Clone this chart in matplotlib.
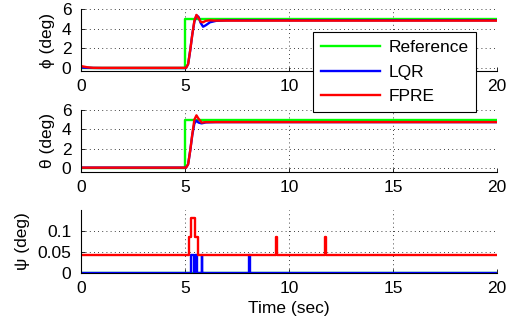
import matplotlib.pyplot as plt
from matplotlib.lines import Line2D

plt.rcParams['font.family'] = ['Liberation Sans', 'DejaVu Sans']
plt.rcParams['font.size'] = 12.5

# time breakpoints and values
t_ref = [0, 5.0, 5.0, 20]
ref = [0, 0, 5, 5]

# roll (phi)
t_phi_lqr = [0, 0.3, 1.0, 5.05, 5.15, 5.25, 5.35, 5.45, 5.55, 5.65, 5.75, 5.87, 6.0, 6.2, 6.5, 7.0, 20]
phi_lqr = [0.05, 0.02, 0.0, 0.0, 0.4, 1.8, 3.4, 4.7, 5.35, 5.2, 4.6, 4.2, 4.35, 4.65, 4.8, 4.85, 4.85]
t_phi_fpre = [0, 0.3, 0.6, 5.05, 5.15, 5.25, 5.35, 5.45, 5.55, 5.65, 5.75, 5.87, 6.0, 6.2, 6.5, 20]
phi_fpre = [0.2, 0.08, 0.02, 0.02, 0.4, 1.8, 3.4, 4.8, 5.4, 5.1, 4.7, 4.65, 4.8, 4.85, 4.82, 4.82]

# pitch (theta)
t_th_lqr = [0, 5.05, 5.15, 5.25, 5.35, 5.45, 5.55, 5.65, 5.8, 6.0, 6.5, 20]
th_lqr = [0.05, 0.05, 0.4, 1.8, 3.4, 4.6, 4.9, 4.7, 4.62, 4.72, 4.75, 4.75]
t_th_fpre = [0, 5.05, 5.15, 5.25, 5.35, 5.45, 5.55, 5.65, 5.8, 6.0, 6.5, 20]
th_fpre = [0.05, 0.05, 0.4, 1.8, 3.5, 5.0, 5.45, 5.1, 4.7, 4.75, 4.75, 4.75]

# yaw (psi), step-wise
t_psi_ref = [0, 20]
psi_ref = [0, 0]
t_psi_lqr = [0, 5.27, 5.45, 5.5, 5.56, 5.8, 5.83, 8.1, 8.13, 20]
psi_lqr = [0, 0.043, 0, 0.043, 0, 0.043, 0, 0.043, 0, 0]
t_psi_fpre = [0, 5.19, 5.29, 5.48, 5.64, 9.38, 9.42, 11.72, 11.76, 20]
psi_fpre = [0.043, 0.086, 0.13, 0.086, 0.043, 0.086, 0.043, 0.086, 0.043, 0.043]

green, blue, red = '#00ff00', '#0000ff', '#ff0000'
lw = 1.7

fig = plt.figure(figsize=(5.08, 3.26), dpi=100)
ax1 = fig.add_axes([81/508, 1-71/326, 416/508, 62/326])
ax2 = fig.add_axes([81/508, 1-172/326, 416/508, 62/326])
ax3 = fig.add_axes([81/508, 1-273/326, 416/508, 63/326])

ax1.plot(t_ref, ref, color=green, lw=lw)
ax1.plot(t_phi_lqr, phi_lqr, color=blue, lw=lw)
ax1.plot(t_phi_fpre, phi_fpre, color=red, lw=lw)
ax1.set_ylim(-0.3, 6)
ax1.set_yticks([0, 2, 4, 6])
ax1.set_ylabel('ϕ (deg)', labelpad=5)

ax2.plot(t_ref, ref, color=green, lw=lw)
ax2.plot(t_th_lqr, th_lqr, color=blue, lw=lw)
ax2.plot(t_th_fpre, th_fpre, color=red, lw=lw)
ax2.set_ylim(-0.4, 6)
ax2.set_yticks([0, 2, 4, 6])
ax2.set_ylabel('θ (deg)', labelpad=5)

ax3.plot(t_psi_ref, psi_ref, color=green, lw=lw)
ax3.plot(t_psi_lqr, psi_lqr, color=blue, lw=lw, drawstyle='steps-post')
ax3.plot(t_psi_fpre, psi_fpre, color=red, lw=lw, drawstyle='steps-post')
ax3.set_ylim(0, 0.15)
ax3.set_yticks([0, 0.05, 0.1])
ax3.set_yticklabels(['0', '0.05', '0.1'])
ax3.set_ylabel('ψ (deg)', labelpad=5)
ax3.set_xlabel('Time (sec)', labelpad=3)

for ax in (ax1, ax2, ax3):
    ax.set_xlim(0, 20)
    ax.set_xticks([0, 5, 10, 15, 20])
    ax.spines['top'].set_visible(False)
    ax.spines['right'].set_visible(False)
    ax.spines['left'].set_linewidth(0.8)
    ax.spines['bottom'].set_linewidth(0.8)
    ax.tick_params(direction='in', length=3, width=0.6)
    ax.tick_params(axis='x', pad=6)
    ax.tick_params(axis='y', pad=7)
    ax.grid(True, color='black', linestyle=(0, (1, 4)), linewidth=0.6)
    ax.set_axisbelow(True)
    for s in ax.spines.values():
        s.set_zorder(5)

handles = [Line2D([], [], color=green, lw=lw),
           Line2D([], [], color=blue, lw=lw),
           Line2D([], [], color=red, lw=lw)]
leg = fig.legend(handles, ['Reference', 'LQR', 'FPRE'],
                 loc='upper left', bbox_to_anchor=(313/508, 1-32/326),
                 borderaxespad=0, fancybox=False, framealpha=1,
                 edgecolor='black', handlelength=3.4, labelspacing=0.55,
                 borderpad=0.45, handletextpad=0.5)
leg.get_frame().set_linewidth(0.8)
leg.set_zorder(10)

fig.savefig('out.png', dpi=100)
